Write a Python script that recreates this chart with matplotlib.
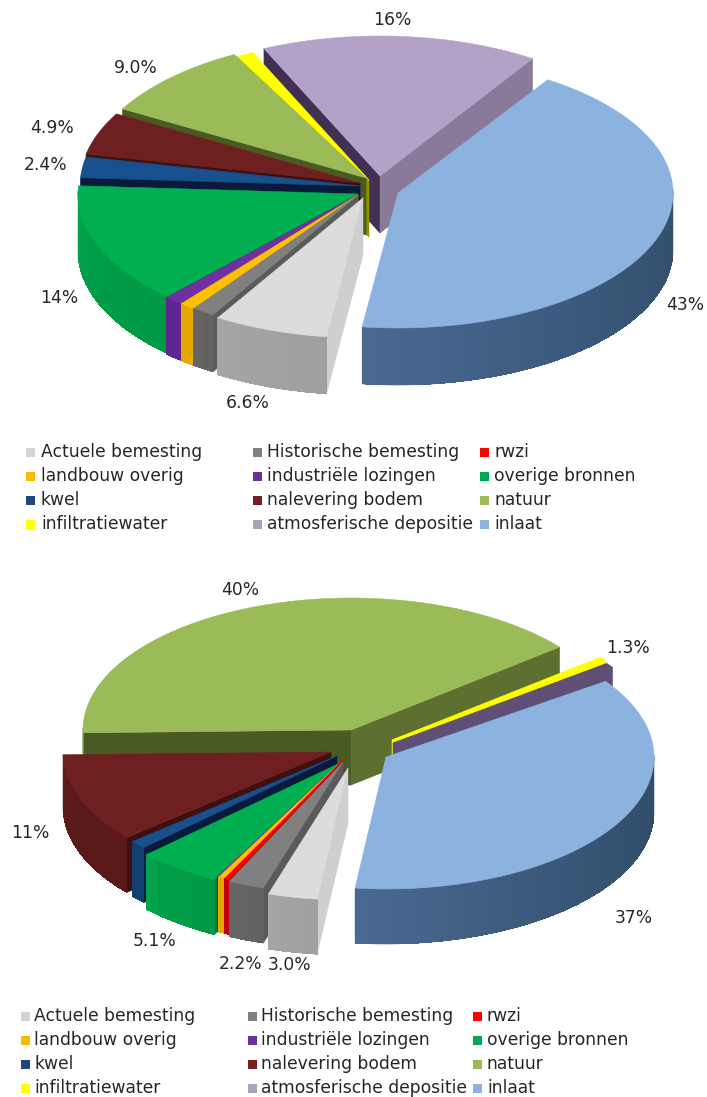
import numpy as np
import matplotlib
matplotlib.use("Agg")
import matplotlib.pyplot as plt
from matplotlib.patches import Polygon, Rectangle
from matplotlib.colors import to_rgb

# ---------- data ----------
categories = ["inlaat", "Actuele bemesting", "Historische bemesting", "rwzi",
              "landbouw overig", "industriële lozingen", "overige bronnen", "kwel",
              "nalevering bodem", "natuur", "infiltratiewater", "atmosferische depositie"]
values_top = [43, 6.6, 1.3, 0.0, 0.9, 1.1, 14, 2.4, 4.9, 9.0, 1.0, 16]
values_bottom = [37, 3.0, 2.2, 0.3, 0.4, 0.1, 5.1, 1.0, 11, 40, 0.5, 0.6]
labels_top = ["43%", "6.6%", "", "", "", "", "14%", "2.4%", "4.9%", "9.0%", "", "16%"]
labels_bottom = ["37%", "3.0%", "2.2%", "", "", "", "5.1%", "", "11%", "40%", "1.3%", ""]
legend_order = ["Actuele bemesting", "Historische bemesting", "rwzi",
                "landbouw overig", "industriële lozingen", "overige bronnen",
                "kwel", "nalevering bodem", "natuur",
                "infiltratiewater", "atmosferische depositie", "inlaat"]

# ---------- style ----------
# top colour, wall start, wall end, start-cut colour, end-cut colour
style = {
    "inlaat": ("#8CB2E0", "#4A6A92", "#2E4A66", "#3A5470", "#3A5470"),
    "Actuele bemesting": ("#DCDCDC", "#A6A6A6", "#A0A0A0", "#CFCFCF", "#CFCFCF"),
    "Historische bemesting": ("#808080", "#666666", "#626262", "#5A5A5A", "#6E6E6E"),
    "rwzi": ("#FF0000", "#C00000", "#C00000", "#A00000", "#C00000"),
    "landbouw overig": ("#FFC000", "#E6A800", "#E6A800", "#B88600", "#E6A800"),
    "industriële lozingen": ("#7030A0", "#5F2590", "#5F2590", "#4A1C78", "#5F2590"),
    "overige bronnen": ("#00B050", "#00A34B", "#009A47", "#007A38", "#00A34B"),
    "kwel": ("#17508C", "#123E70", "#123E70", "#0A1A3C", "#123E70"),
    "nalevering bodem": ("#6E2020", "#5E1B1B", "#5A1A1A", "#3E1010", "#5E1B1B"),
    "natuur": ("#9BBB59", "#7A9440", "#7A9440", "#4A5A24", "#5D7030"),
    "infiltratiewater": ("#FFFF00", "#B0A800", "#B0A800", "#8F8F00", "#A0A000"),
    "atmosferische depositie": ("#B3A2C7", "#8A7A9A", "#8A7A9A", "#403152", "#8A7A9A"),
}
legend_colors = {"Actuele bemesting": "#D4D4D4", "Historische bemesting": "#808080", "rwzi": "#FF0000",
                 "landbouw overig": "#FFB800", "industriële lozingen": "#6A2FA0",
                 "overige bronnen": "#00A855", "kwel": "#1F497D", "nalevering bodem": "#722020",
                 "natuur": "#9BBB59", "infiltratiewater": "#FFFF00",
                 "atmosferische depositie": "#AAA3BC", "inlaat": "#8CB2E0"}

# per-slice centre of the exploded wedge (pixels) and radii
top_geom = {
    "inlaat": (398, 193, 275, 135), "Actuele bemesting": (363, 198, 280, 140),
    "Historische bemesting": (358, 195, 280, 140), "rwzi": (358, 195, 280, 140),
    "landbouw overig": (358, 195, 280, 140), "industriële lozingen": (358, 195, 280, 140),
    "overige bronnen": (358, 194, 280, 140), "kwel": (360, 186, 280, 140),
    "nalevering bodem": (360, 183, 280, 140), "natuur": (366, 178, 280, 140),
    "infiltratiewater": (369, 180, 280, 140), "atmosferische depositie": (380, 176, 280, 140),
}
bot_geom = {
    "inlaat": (386, 757, 268, 132), "Actuele bemesting": (348, 768, 268, 132),
    "Historische bemesting": (343, 762, 268, 132), "rwzi": (343, 760, 268, 132),
    "landbouw overig": (343, 760, 268, 132), "industriële lozingen": (343, 760, 268, 132),
    "overige bronnen": (340, 763, 268, 132), "kwel": (337, 756, 268, 132),
    "nalevering bodem": (331, 752, 268, 132), "natuur": (351, 730, 268, 132),
    "infiltratiewater": (392, 740, 268, 132), "atmosferische depositie": (393, 743, 268, 132),
}
top_order = ["atmosferische depositie", "infiltratiewater", "natuur", "nalevering bodem", "kwel",
             "overige bronnen", "industriële lozingen", "landbouw overig", "rwzi",
             "Historische bemesting", "Actuele bemesting", "inlaat"]
bot_order = ["natuur", "infiltratiewater", "atmosferische depositie", "nalevering bodem", "kwel",
             "overige bronnen", "industriële lozingen", "landbouw overig", "rwzi",
             "Historische bemesting", "Actuele bemesting", "inlaat"]
# colour changes of the lower chart: thin slices show other faces
bot_over = {"atmosferische depositie": {"top": "#5F4E75", "c0": "#5F4E75", "c1": "#5F4E75"},
            "infiltratiewater": {"c0": "#FFFF00", "c1": "#FFFF00"}}

fig = plt.figure(figsize=(7.07, 10.97), dpi=100)
ax = fig.add_axes([0, 0, 1, 1])
ax.set_xlim(0, 707)
ax.set_ylim(1097, 0)
ax.axis("off")


def poly(pts, color, z, aa=True):
    ax.add_patch(Polygon(pts, closed=True, facecolor=color, edgecolor=color,
                         linewidth=0.4 if aa else 0.0, zorder=z, joinstyle="round", antialiased=aa))


def mix(c1, c2, t):
    a, b = np.array(to_rgb(c1)), np.array(to_rgb(c2))
    return tuple(a + (b - a) * t)


def draw_pie(values, start, depth, geom, order, overrides=None):
    overrides = overrides or {}
    vals = np.array(values, dtype=float)
    sweep = vals / vals.sum() * 360
    edges = start + np.concatenate([[0], np.cumsum(sweep)])
    z = 2
    for name in order:
        i = categories.index(name)
        if vals[i] <= 0:
            continue
        a0, a1 = edges[i], edges[i + 1]
        cx, cy, rx, ry = geom[name]
        top, w0, w1, c0, c1 = style[name]
        o = overrides.get(name, {})
        top, c0, c1 = o.get("top", top), o.get("c0", c0), o.get("c1", c1)
        rim = lambda a: (cx + rx * np.sin(np.radians(a)), cy - ry * np.cos(np.radians(a)))
        apex = (cx, cy)
        low = lambda p: (p[0], p[1] + depth)
        faces = []
        if -np.sin(np.radians(a0)) > 0:
            p = rim(a0)
            faces.append(([apex, p, low(p), low(apex)], c0))
        if np.sin(np.radians(a1)) > 0:
            p = rim(a1)
            faces.append(([apex, p, low(p), low(apex)], c1))
        for pts, col in faces:
            poly(pts, col, z)
            z += 1
        # outer wall, with a gradient along the rim; each strip overlaps the next
        ang = np.linspace(a0, a1, max(3, int((a1 - a0) / 2.5) + 2))
        front = [a for a in np.linspace(a0, a1, 200) if np.cos(np.radians(a)) <= 0.02]
        if front:
            outline = [rim(a) for a in front] + [low(rim(a)) for a in front[::-1]]
            poly(outline, mix(w0, w1, 0.5), z)
            z += 1
            for k in range(len(ang) - 1):
                mid = 0.5 * (ang[k] + ang[k + 1])
                if np.cos(np.radians(mid)) <= 0.02:
                    t = ((k + 0.5) / (len(ang) - 1)) ** 2
                    p, q = rim(ang[k]), rim(ang[min(k + 1, len(ang) - 1)])
                    poly([p, q, low(q), low(p)], mix(w1, w0, t), z, aa=False)
        z += 1
        poly([apex] + [rim(a) for a in ang], top, z)
        z += 1


draw_pie(values_top, 33, 57, top_geom, top_order)
draw_pie(values_bottom, 55, 55, bot_geom, bot_order, overrides=bot_over)

# ---------- labels ----------
FS = 12.3
TXT = "#262626"
top_label_pos = [(685, 305), (248, 403), None, None, None, None, (59, 298),
                 (46, 165), (52, 128), (136, 68), None, (392, 20)]
bot_label_pos = [(634, 918), (290, 965), (241, 964), None, None, None, (154, 941),
                 None, (30, 833), (240, 590), (628, 648), None]
for labs, pos in ((labels_top, top_label_pos), (labels_bottom, bot_label_pos)):
    for lab, p in zip(labs, pos):
        if lab and p:
            ax.text(p[0], p[1], lab, ha="center", va="center", fontsize=FS, color=TXT,
                    family="DejaVu Sans", zorder=60)


def legend(xs_box, xs_txt, ys, size):
    for n, name in enumerate(legend_order):
        r, c = n // 3, n % 3
        ax.add_patch(Rectangle((xs_box[c], ys[r] - size / 2), size, size,
                               facecolor=legend_colors[name], edgecolor="none", zorder=50))
        ax.text(xs_txt[c], ys[r], name, ha="left", va="center", fontsize=FS, color=TXT,
                family="DejaVu Sans", zorder=60)


legend([26, 253, 480], [41, 267, 494], [452, 476, 500, 524], 9)
legend([21, 248, 473], [34, 261, 487], [1016, 1040, 1064, 1088], 9)

fig.savefig("out.png", dpi=100)
